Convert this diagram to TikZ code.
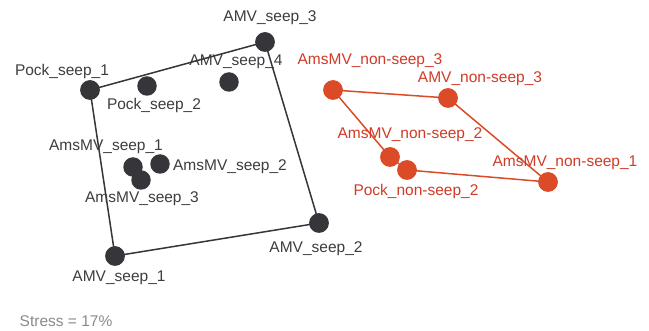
\documentclass[tikz,border=0pt]{standalone}
\usepackage{fontspec}
\setmainfont{Liberation Sans}
\definecolor{seepdark}{HTML}{35353A}
\definecolor{nonseepred}{HTML}{DC4B27}
\definecolor{labelred}{HTML}{D03A26}
\definecolor{stressgray}{HTML}{8A8A8A}

\begin{document}
\begin{tikzpicture} [x=1pt,y=-1pt,
  dot/.style={circle,inner sep=0pt,minimum size=19.5pt},
  seep/.style={dot,fill=seepdark},
  nonseep/.style={dot,fill=nonseepred},
  lab/.style={font=\fontsize{15.5}{17}\selectfont,inner sep=0pt,text=seepdark!90!gray},
  labred/.style={lab,text=labelred},
  hull/.style={seepdark,line width=1.5pt},
  hullred/.style={nonseepred,line width=1.5pt}]
\useasboundingbox (0,0) rectangle (649,331);
% seep points
\node[seep] (AMVseepthree) at (265,42) {};
\node[seep] (Pockseepone)  at (90,90) {};
\node[seep] (Pockseeptwo)  at (147,86) {};
\node[seep] (AMVseepfour)  at (229,82) {};
\node[seep] (AmsMVseepone) at (133,167) {};
\node[seep] (AmsMVseeptwo) at (160,164) {};
\node[seep] (AmsMVseepthree) at (141,180) {};
\node[seep] (AMVseeptwo)   at (319,223) {};
\node[seep] (AMVseepone)   at (115,256) {};
% non-seep points
\node[nonseep] (AmsMVnonthree) at (333,90) {};
\node[nonseep] (AMVnonthree)   at (448,98) {};
\node[nonseep] (AmsMVnontwo)   at (390,157) {};
\node[nonseep] (Pocknontwo)    at (407,170) {};
\node[nonseep] (AmsMVnonone)   at (548,182) {};
% hulls
\draw[hull] (AMVseepone.center)--(Pockseepone.center)--(AMVseepthree.center)--(AMVseeptwo.center)--cycle;
\draw[hullred] (AmsMVnonthree.center)--(AMVnonthree.center)--(AmsMVnonone.center)--(Pocknontwo.center)--(AmsMVnontwo.center)--cycle;
% redraw dots on top
\foreach \n in {AMVseepthree,Pockseepone,AMVseeptwo,AMVseepone}
  \fill[seepdark] (\n) circle (9.75pt);
\foreach \n in {AmsMVnonthree,AMVnonthree,AmsMVnonone,Pocknontwo,AmsMVnontwo}
  \fill[nonseepred] (\n) circle (9.75pt);
% labels
\node[lab] (lAMVseepthree) at (270,18) {AMV\_seep\_3};
\node[lab] (lPockseepone)  at (62,71) {Pock\_seep\_1};
\node[lab] (lPockseeptwo)  at (154,105) {Pock\_seep\_2};
\node[lab] (lAMVseepfour)  at (236,62) {AMV\_seep\_4};
\node[lab] (lAmsMVseepone) at (106,147) {AmsMV\_seep\_1};
\node[lab] (lAmsMVseeptwo) at (230,167) {AmsMV\_seep\_2};
\node[lab] (lAmsMVseepthree) at (142,199) {AmsMV\_seep\_3};
\node[lab] (lAMVseeptwo)   at (316,249) {AMV\_seep\_2};
\node[lab] (lAMVseepone)   at (119,278) {AMV\_seep\_1};
\node[labred] (lAmsMVnonthree) at (370,61) {AmsMV\_non-seep\_3};
\node[labred] (lAMVnonthree)   at (480,79) {AMV\_non-seep\_3};
\node[labred] (lAmsMVnontwo)   at (410,135) {AmsMV\_non-seep\_2};
\node[labred] (lPocknontwo)    at (416,191) {Pock\_non-seep\_2};
\node[labred] (lAmsMVnonone)   at (565,163) {AmsMV\_non-seep\_1};
\node[lab,text=stressgray] (stress) at (66,321) {Stress = 17\%};
\end{tikzpicture}
\end{document}
